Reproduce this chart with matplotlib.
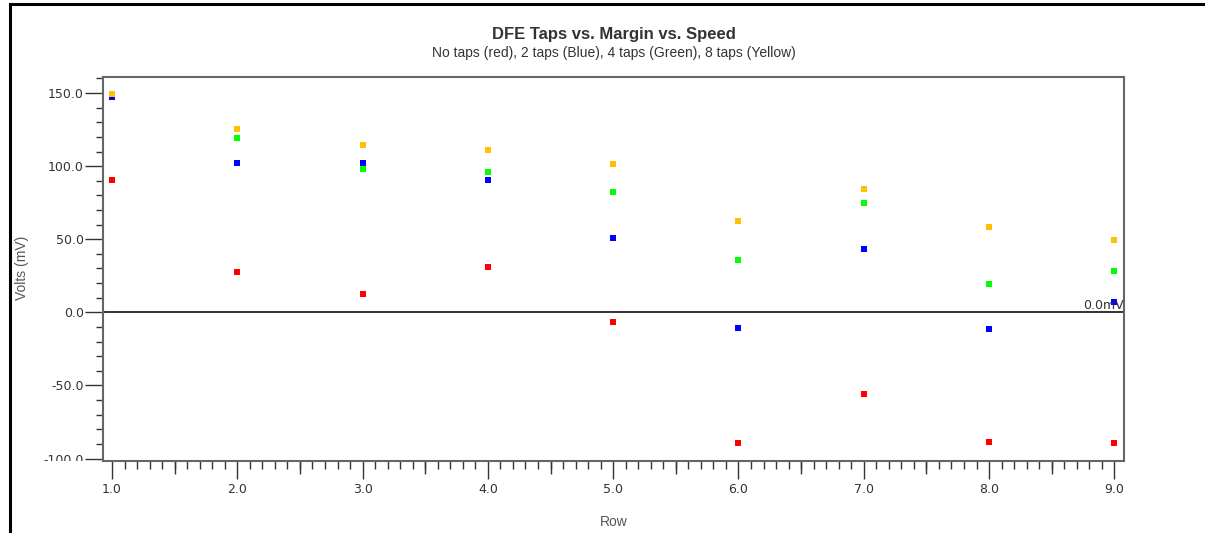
#import libraries
import numpy as np
import matplotlib
matplotlib.use('Agg')
import matplotlib.pyplot as plt
from matplotlib.ticker import MultipleLocator, FixedLocator, NullFormatter
from matplotlib.transforms import Bbox, TransformedBbox
from matplotlib.lines import Line2D

#chart data (mV per row)
rows = [1, 2, 3, 4, 5, 6, 7, 8, 9]
no_taps = [90.4, 27.5, 12.5, 31.2, -6.4, -89.3, -55.6, -88.4, -89.1]
taps_2 = [147.5, 102.3, 102.5, 90.4, 50.6, -10.7, 43.3, -11.4, 6.8]
taps_4 = [None, 119.6, 98.4, 95.7, 82.0, 35.7, 74.5, 19.3, 28.2]
taps_8 = [149.7, 125.5, 114.4, 111.4, 101.6, 62.6, 84.3, 58.3, 49.2]
series_names = ['No taps', '2 taps', '4 taps', '8 taps']
series_colors = ['#ff0000', '#0000ff', '#00ff00', '#ffc000']

title = 'DFE Taps vs. Margin vs. Speed'
subtitle = 'No taps (red), 2 taps (Blue), 4 taps (Green), 8 taps (Yellow)'

plt.rcParams['font.family'] = ['Liberation Sans', 'DejaVu Sans']
txt = '#333333'
grey = '#666666'
tickfont = 'DejaVu Sans'

def dfe_plot(fname='out.png'):
	#figure sized to 1205x533 px
	f = plt.figure(figsize=(12.05, 5.33), dpi=100)
	ax = f.add_axes([103/1205, 1-461/533, (1124-103)/1205, (461-77)/533])

	#scatter each series as small squares (yellow on top)
	for vals, name, col in zip([no_taps, taps_2, taps_4, taps_8], series_names, series_colors):
		x = [r for r, v in zip(rows, vals) if v is not None]
		y = [v for v in vals if v is not None]
		ax.plot(x, y, ls='none', marker='s', ms=4.4, mfc=col, mec=col, mew=0, label=name)

	#zero reference line
	ax.axhline(0, color='#222222', lw=1.3, zorder=1)
	ax.text(1.0, 0.5, '0.0mV', transform=ax.get_yaxis_transform(), ha='right', va='bottom',
		fontsize=9, color=txt, family=tickfont)

	#axis limits and ticks (lengths in points)
	ax.set_xlim(0.928, 9.077)
	ax.set_ylim(-101.7, 161)
	ax.xaxis.set_major_locator(MultipleLocator(1))
	ax.xaxis.set_minor_locator(MultipleLocator(0.1))
	ax.yaxis.set_major_locator(MultipleLocator(50))
	ax.yaxis.set_minor_locator(MultipleLocator(10))
	ax.xaxis.set_major_formatter(lambda v, p: '%.1f' % v)
	ax.yaxis.set_major_formatter(lambda v, p: '%.1f' % v)
	ax.tick_params(axis='x', which='major', length=12.6, width=1, color='#333333', pad=3,
		labelsize=9, labelcolor=txt)
	ax.tick_params(axis='x', which='minor', length=5.4, width=1, color='#333333')
	ax.tick_params(axis='y', which='major', length=13, width=1, color='#333333', pad=0.7,
		labelsize=9, labelcolor=txt)
	ax.tick_params(axis='y', which='minor', length=5, width=1, color='#333333')
	for lab in ax.get_xticklabels() + ax.get_yticklabels():
		lab.set_family(tickfont)

	#medium ticks at the half rows
	sec = ax.secondary_xaxis('bottom')
	sec.xaxis.set_major_locator(FixedLocator(np.arange(1.5, 9, 1.0)))
	sec.xaxis.set_major_formatter(NullFormatter())
	sec.tick_params(length=9, width=1, color='#333333')
	sec.spines['bottom'].set_visible(False)

	#spines
	for s in ax.spines.values():
		s.set_color(grey)
		s.set_linewidth(1.5)

	#the bottom tick label is cut by the plot bottom
	f.canvas.draw()
	clip = TransformedBbox(Bbox.from_extents(-1, 0, 1, 2), ax.transAxes)
	for lab in ax.get_yticklabels():
		lab.set_family(tickfont)
		lab.set_clip_on(True)
		lab.set_clip_box(clip)
	for lab in ax.get_xticklabels():
		lab.set_family(tickfont)

	#labels and titles
	ax.set_xlabel('Row', fontsize=10, color='#555555', va='center')
	ax.xaxis.set_label_coords(0.5, (461-522)/384)
	f.text(22/1205, 1-268/533, 'Volts (mV)', rotation=90, ha='center', va='center',
		fontsize=10, color='#555555')
	cx = (103+1124)/2/1205
	f.text(cx, 1-35/533, title, ha='center', va='center', fontsize=12,
		fontweight='bold', color=txt)
	f.text(cx, 1-53/533, subtitle, ha='center', va='center', fontsize=10, color=txt)

	#outer frame lines (top and left)
	f.add_artist(Line2D([10/1205, 1], [1-4/533, 1-4/533], color='black', lw=2.2))
	f.add_artist(Line2D([10/1205, 10/1205], [0, 1-4/533], color='black', lw=2.2))

	plt.savefig(fname, dpi=100)

#define main function
def main():
	dfe_plot()

#execute main()
if __name__ == "__main__":
	main()
